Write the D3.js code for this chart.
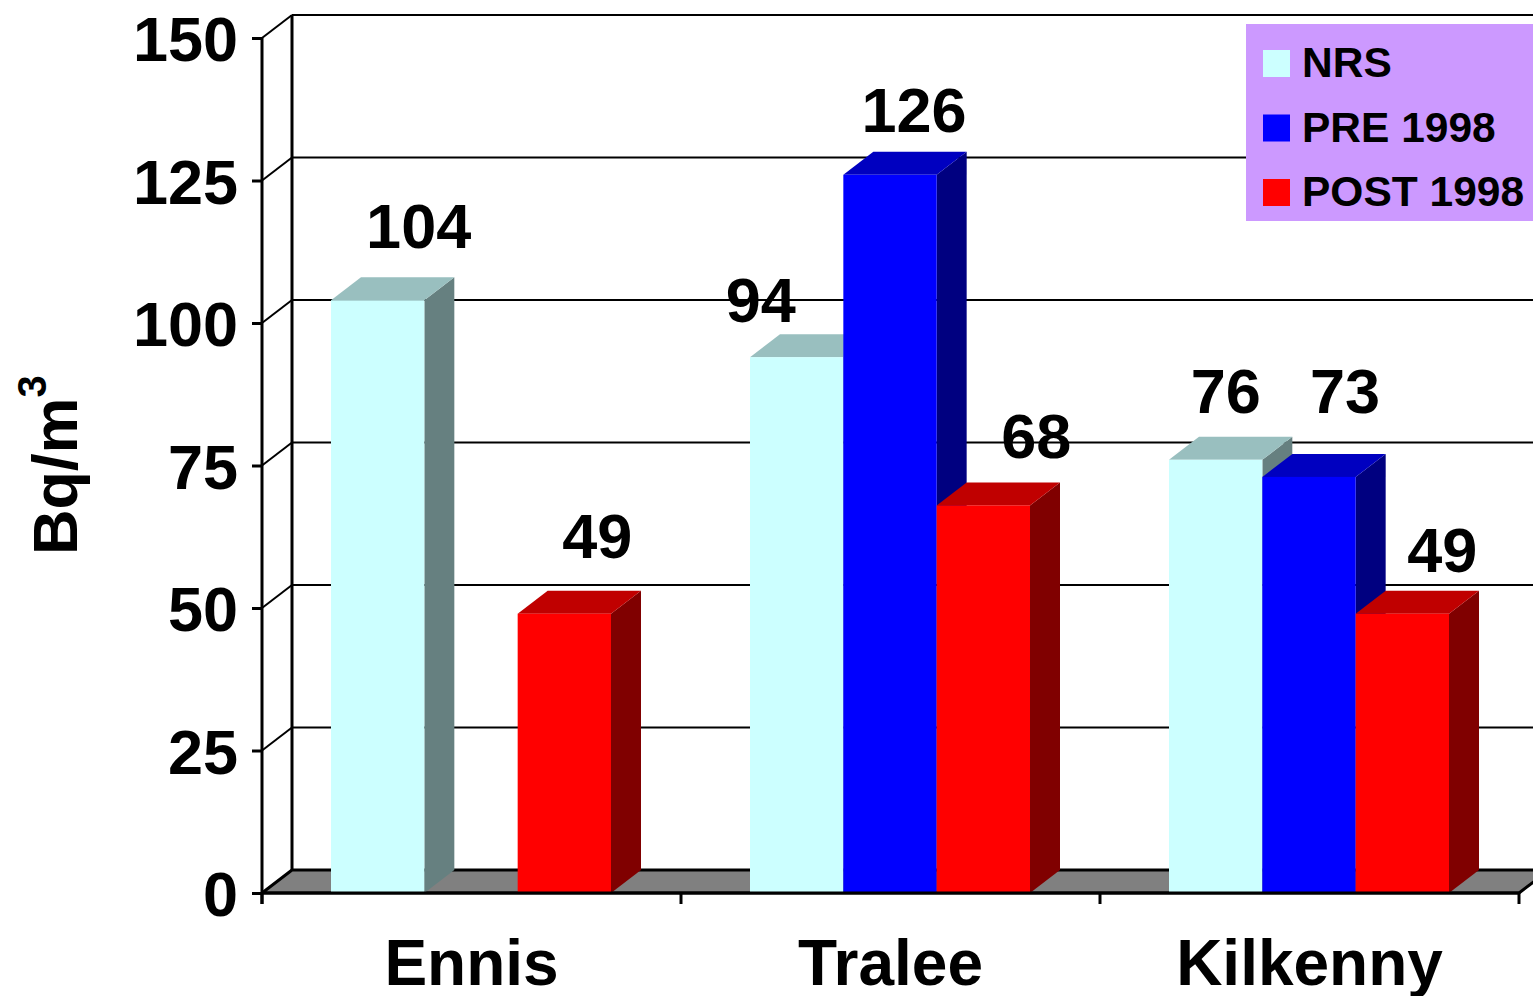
<!DOCTYPE html>
<html lang="en">

<head>
	<meta charset="UTF-8">
	<title>Bq/m3 by town</title>
	<script src="https://cdn.jsdelivr.net/npm/d3@7/dist/d3.min.js" charset="UTF-8"></script>
	<style>
		body { margin: 0; background: #fff; }
		svg { display: block; }
		text { font-family: Arial, "Liberation Sans", sans-serif; font-weight: bold; fill: #000; }
	</style>
</head>

<body>
	<div id="chart"></div>

	<script type="text/javascript">
	// data
	let categories = ['Ennis', 'Tralee', 'Kilkenny'];
	let series = ['NRS', 'PRE 1998', 'POST 1998'];
	let nrs = [104, 94, 76];
	let pre1998 = [null, 126, 73];
	let post1998 = [49, 68, 49];
	let yTicks = [0, 25, 50, 75, 100, 125, 150];

	let values = [nrs, pre1998, post1998];

	// label nudges (px) from the centre of the bar top, as placed in the original
	let labelNudge = [
		[[41, -52], [-36, -35], [10, -47]],
		[[0, 0], [24, -43], [36, -64]],
		[[33, -56], [53, -47], [40, -42]]
	];

	let colors = [
		{ front: '#ccffff', side: '#668080', top: '#99bfbf' },
		{ front: '#0000ff', side: '#000080', top: '#0000c0' },
		{ front: '#ff0000', side: '#800000', top: '#c00000' }
	];

	let width = 1533,
		height = 996;
	let dX = 30,
		dY = -23;

	let svg = d3.select('#chart')
		.append('svg')
		.attr('width', width)
		.attr('height', height);

	let x = d3.scaleBand().domain(categories).range([262, 1519]);
	let xs = d3.scaleBand().domain(series).range([69, 349]);
	let y = d3.scaleLinear().domain([0, 150]).range([893, 38]);

	let x0 = x.range()[0],
		x1 = x.range()[1],
		yZero = y(0);

	// back wall gridlines and the slanted lines of the side wall
	yTicks.filter(t => t > 0).forEach(t => {
		svg.append('line')
			.attr('x1', x0).attr('y1', y(t))
			.attr('x2', x0 + dX).attr('y2', y(t) + dY)
			.attr('stroke', '#000').attr('stroke-width', 2);
		svg.append('line')
			.attr('x1', x0 + dX).attr('y1', y(t) + dY)
			.attr('x2', x1 + dX + 40).attr('y2', y(t) + dY)
			.attr('stroke', '#000').attr('stroke-width', 2);
	});

	svg.append('line')
		.attr('x1', x0 + dX).attr('y1', y(150) + dY)
		.attr('x2', x0 + dX).attr('y2', yZero + dY)
		.attr('stroke', '#000').attr('stroke-width', 3);

	// floor
	svg.append('polygon')
		.attr('points', [[x0, yZero], [x1, yZero], [x1 + dX, yZero + dY], [x0 + dX, yZero + dY]].join(' '))
		.attr('fill', '#808080')
		.attr('stroke', '#000')
		.attr('stroke-width', 3)
		.attr('stroke-linejoin', 'round');

	// bars, left to right so later faces cover earlier sides
	let bars = [];
	categories.forEach((c, i) => {
		series.forEach((s, j) => {
			if (values[j][i] != null) bars.push({ c: c, s: s, i: i, j: j, v: values[j][i] });
		});
	});

	let bw = xs.bandwidth();
	let g = svg.selectAll('g.bar').data(bars).enter().append('g').attr('class', 'bar');

	g.append('polygon')
		.attr('fill', d => colors[d.j].side)
		.attr('points', d => {
			let bx = x(d.c) + xs(d.s) + bw, t = y(d.v);
			return [[bx, t], [bx + dX, t + dY], [bx + dX, yZero + dY], [bx, yZero]].join(' ');
		});
	g.append('polygon')
		.attr('fill', d => colors[d.j].top)
		.attr('points', d => {
			let bx = x(d.c) + xs(d.s), t = y(d.v);
			return [[bx, t], [bx + dX, t + dY], [bx + bw + dX, t + dY], [bx + bw, t]].join(' ');
		});
	g.append('rect')
		.attr('fill', d => colors[d.j].front)
		.attr('x', d => x(d.c) + xs(d.s))
		.attr('y', d => y(d.v))
		.attr('width', bw)
		.attr('height', d => yZero - y(d.v));

	// front x axis line and ticks at the category boundaries
	svg.append('line')
		.attr('x1', x0).attr('y1', yZero).attr('x2', x1).attr('y2', yZero)
		.attr('stroke', '#000').attr('stroke-width', 3);
	svg.selectAll('line.xtick')
		.data(categories.map(c => x(c)).concat([x1]))
		.enter().append('line')
		.attr('class', 'xtick')
		.attr('x1', d => d).attr('x2', d => d)
		.attr('y1', yZero).attr('y2', yZero + 11)
		.attr('stroke', '#000').attr('stroke-width', 3);

	let xAxis = svg.append('g')
		.attr('transform', 'translate(0,' + yZero + ')')
		.call(d3.axisBottom(x).tickSize(0).tickPadding(0));
	xAxis.select('.domain').remove();
	xAxis.selectAll('text')
		.attr('font-size', '64px')
		.attr('font-family', 'Arial, "Liberation Sans", sans-serif')
		.attr('dy', null)
		.attr('y', 92);

	// y axis
	svg.append('line')
		.attr('x1', x0).attr('y1', y(150)).attr('x2', x0).attr('y2', yZero + 11)
		.attr('stroke', '#000').attr('stroke-width', 3);

	let yAxis = svg.append('g')
		.attr('transform', 'translate(' + x0 + ',0)')
		.call(d3.axisLeft(y).tickValues(yTicks).tickSize(10).tickSizeOuter(0).tickPadding(14));
	yAxis.select('.domain').remove();
	yAxis.selectAll('.tick line').attr('stroke', '#000').attr('stroke-width', 3);
	yAxis.selectAll('text')
		.attr('font-size', '63px')
		.attr('font-family', 'Arial, "Liberation Sans", sans-serif')
		.attr('dy', '0.36em');

	// y title
	let title = svg.append('text')
		.attr('transform', 'translate(77,555) rotate(-90)')
		.attr('font-size', '63px');
	title.append('tspan').text('Bq/m');
	title.append('tspan').attr('font-size', '40px').attr('dy', -31).text('3');

	// value labels
	svg.selectAll('text.val').data(bars).enter().append('text')
		.attr('class', 'val')
		.attr('font-size', '63px')
		.attr('text-anchor', 'middle')
		.attr('x', d => x(d.c) + xs(d.s) + bw / 2 + labelNudge[d.j][d.i][0])
		.attr('y', d => y(d.v) + labelNudge[d.j][d.i][1])
		.text(d => d.v);

	// legend
	let legend = svg.append('g');
	legend.append('rect')
		.attr('x', 1246).attr('y', 24)
		.attr('width', 300).attr('height', 197)
		.attr('fill', '#cc99ff');
	let li = legend.selectAll('g.item').data(series).enter().append('g')
		.attr('class', 'item')
		.attr('transform', (d, i) => 'translate(1263,' + (50 + i * 64.5) + ')');
	li.append('rect')
		.attr('width', 27).attr('height', 27)
		.attr('fill', (d, i) => colors[i].front);
	li.append('text')
		.attr('x', 39).attr('y', 27)
		.attr('font-size', '42.5px')
		.text(d => d);
	</script>
</body>

</html>
